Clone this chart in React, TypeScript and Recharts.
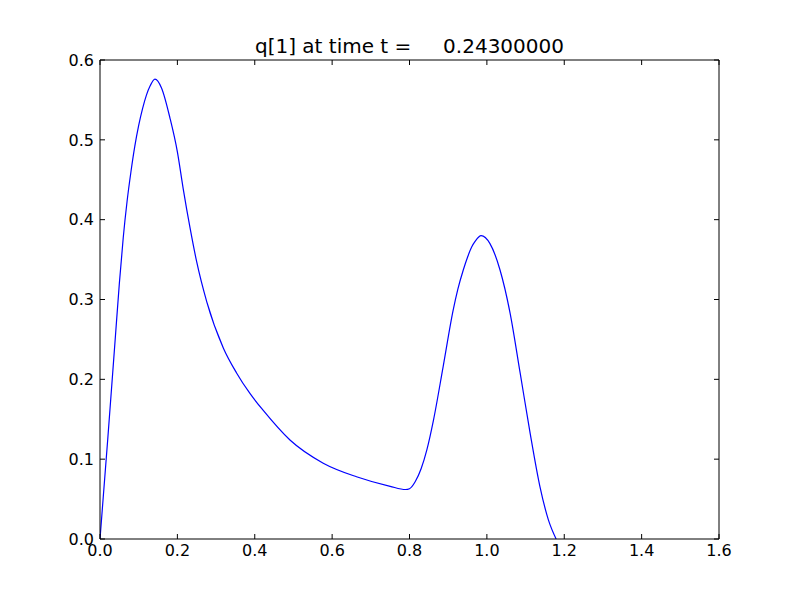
import React from "react";
import { LineChart, Line, XAxis, YAxis } from "recharts";

const xValues = [
  0, 0.02, 0.04, 0.05, 0.06, 0.07, 0.08, 0.09, 0.1, 0.11, 0.12, 0.13, 0.142, 0.159, 0.181,
  0.2, 0.215, 0.233, 0.25, 0.276, 0.319, 0.353, 0.388, 0.422, 0.491, 0.577, 0.663, 0.75, 0.79,
  0.8, 0.815, 0.83, 0.845, 0.862, 0.887, 0.913, 0.925, 0.939, 0.95, 0.961, 0.97, 0.985, 1.008,
  1.034, 1.06, 1.086, 1.112, 1.137, 1.159, 1.179,
];
const qValues = [
  0, 0.125, 0.255, 0.32, 0.377, 0.423, 0.46, 0.492, 0.518, 0.539, 0.556, 0.568, 0.576, 0.565,
  0.527, 0.485, 0.439, 0.389, 0.347, 0.297, 0.239, 0.208, 0.182, 0.161, 0.124, 0.095, 0.078,
  0.066, 0.062, 0.063, 0.072, 0.088, 0.112, 0.149, 0.216, 0.287, 0.313, 0.337, 0.353, 0.366,
  0.373, 0.38, 0.37, 0.337, 0.283, 0.208, 0.132, 0.066, 0.024, 0,
];

const xTicks = [0, 0.2, 0.4, 0.6, 0.8, 1.0, 1.2, 1.4, 1.6];
const yTicks = [0, 0.1, 0.2, 0.3, 0.4, 0.5, 0.6];
const title = "q[1] at time t =     0.24300000";

const data = xValues.map((x, i) => ({ x, q: qValues[i] }));

const font = "DejaVu Sans";
const tickStyle = { fontSize: 16, fill: "#000", fontFamily: font };
const blank = () => "";

export default function App() {
  return (
    <div
      style={{
        position: "relative",
        width: 800,
        height: 600,
        margin: -8,
        background: "#fff",
        fontFamily: font,
      }}
    >
      <div
        style={{
          position: "absolute",
          top: 34,
          left: 100,
          width: 619,
          textAlign: "center",
          fontSize: 20,
          lineHeight: "24px",
          whiteSpace: "pre",
          color: "#000",
        }}
      >
        {title}
      </div>
      <LineChart
        width={800}
        height={600}
        data={data}
        margin={{ top: 40, right: 61, bottom: 31, left: 40 }}
      >
        <XAxis
          dataKey="x"
          type="number"
          domain={[0, 1.6]}
          ticks={xTicks}
          tickFormatter={(v) => v.toFixed(1)}
          tick={tickStyle}
          stroke="#000"
          tickSize={-5}
          tickMargin={11}
          height={30}
          allowDataOverflow
        />
        <XAxis
          xAxisId="top"
          orientation="top"
          dataKey="x"
          type="number"
          domain={[0, 1.6]}
          ticks={xTicks}
          tickFormatter={blank}
          stroke="#000"
          tickSize={-5}
          height={20}
          allowDataOverflow
        />
        <YAxis
          type="number"
          domain={[0, 0.6]}
          ticks={yTicks}
          tickFormatter={(v) => v.toFixed(1)}
          tick={tickStyle}
          stroke="#000"
          tickSize={-5}
          tickMargin={11}
          width={60}
          allowDataOverflow
        />
        <YAxis
          yAxisId="right"
          orientation="right"
          type="number"
          domain={[0, 0.6]}
          ticks={yTicks}
          tickFormatter={blank}
          stroke="#000"
          tickSize={-5}
          width={20}
          allowDataOverflow
        />
        <Line
          type="monotone"
          dataKey="q"
          stroke="#0000ff"
          strokeWidth={1.2}
          dot={false}
          isAnimationActive={false}
        />
      </LineChart>
    </div>
  );
}
